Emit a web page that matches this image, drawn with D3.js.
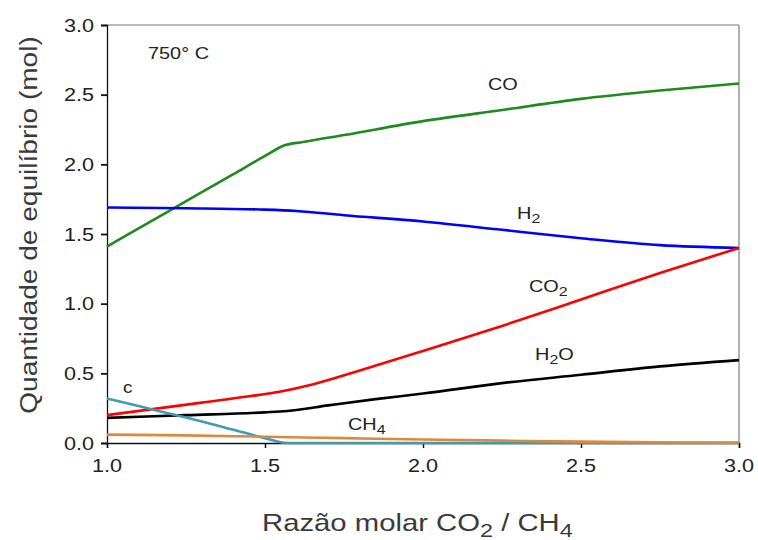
<!DOCTYPE html>
<html>
<head>
<meta charset="utf-8">
<script src="https://cdn.jsdelivr.net/npm/d3@7/dist/d3.min.js"></script>
<style>
  html, body { margin: 0; padding: 0; background: #fff; }
  svg { display: block; font-family: "Liberation Sans", Arial, sans-serif; }
</style>
</head>
<body>
<svg id="chart" width="758" height="540"></svg>
<script>
// Equilibrium composition at 750 °C versus CO2/CH4 feed ratio
const xTicks = [1.0, 1.5, 2.0, 2.5, 3.0];
const yTicks = [0.0, 0.5, 1.0, 1.5, 2.0, 2.5, 3.0];

const coX  = [1.0, 1.1, 1.2, 1.3, 1.4, 1.5, 1.56, 1.62, 1.75, 2.0, 2.25, 2.5, 2.75, 3.0];
const coY  = [1.41, 1.54, 1.67, 1.80, 1.93, 2.06, 2.135, 2.16, 2.21, 2.31, 2.39, 2.47, 2.53, 2.58];

const h2X  = [1.0, 1.25, 1.5, 1.6, 1.75, 2.0, 2.25, 2.5, 2.75, 3.0];
const h2Y  = [1.69, 1.685, 1.675, 1.665, 1.635, 1.59, 1.53, 1.47, 1.42, 1.40];

const co2X = [1.0, 1.15, 1.3, 1.45, 1.55, 1.65, 1.8, 2.0, 2.25, 2.5, 2.75, 3.0];
const co2Y = [0.20, 0.245, 0.29, 0.335, 0.37, 0.42, 0.52, 0.66, 0.84, 1.03, 1.22, 1.40];

const h2oX = [1.0, 1.25, 1.5, 1.57, 1.7, 1.85, 2.0, 2.25, 2.5, 2.75, 3.0];
const h2oY = [0.18, 0.20, 0.22, 0.23, 0.27, 0.315, 0.355, 0.43, 0.49, 0.55, 0.595];

const cX   = [1.0, 1.1, 1.2, 1.3, 1.4, 1.5, 1.57, 2.0, 2.5, 3.0];
const cY   = [0.32, 0.265, 0.21, 0.155, 0.095, 0.035, 0.0, 0.0, 0.0, 0.0];

const ch4X = [1.0, 1.25, 1.5, 1.75, 2.0, 2.25, 2.5, 2.75, 3.0];
const ch4Y = [0.06, 0.055, 0.045, 0.035, 0.025, 0.017, 0.01, 0.005, 0.003];

const series = [
  { name: "CO",  xs: coX,  ys: coY,  color: "#1f8a1f" },
  { name: "H2",  xs: h2X,  ys: h2Y,  color: "#0000ff" },
  { name: "H2O", xs: h2oX, ys: h2oY, color: "#000000" },
  { name: "CO2", xs: co2X, ys: co2Y, color: "#ff0000" },
  { name: "C",   xs: cX,   ys: cY,   color: "#3f9db3" },
  { name: "CH4", xs: ch4X, ys: ch4Y, color: "#e0883a" }
];

const L = 107, R = 739, T = 25, B = 443;
const SX = 1.17;   // horizontal widening of the lettering

const svg = d3.select("#chart");
const x = d3.scaleLinear().domain([1, 3]).range([L, R]);
const y = d3.scaleLinear().domain([0, 3]).range([B, T]);

// frame: grey top and right edges
svg.append("line").attr("x1", L).attr("x2", R).attr("y1", T).attr("y2", T)
  .attr("stroke", "#777").attr("stroke-width", 1.2);
svg.append("line").attr("x1", R).attr("x2", R).attr("y1", T).attr("y2", B)
  .attr("stroke", "#999").attr("stroke-width", 1.5);

// text helper with a slight horizontal stretch
function label(g, px, py, parts, size, anchor, rot, sx) {
  const t = g.append("text")
    .attr("transform", `translate(${px},${py})` + (rot ? ` rotate(${rot})` : "") + ` scale(${sx || SX},1)`)
    .attr("font-size", size)
    .attr("text-anchor", anchor || "start")
    .attr("fill", "#222");
  parts.forEach(p => {
    const s = t.append("tspan").text(p.t);
    if (p.sub) s.attr("font-size", size * 0.8).attr("dy", size * 0.25);
    else if (p.up) s.attr("dy", -size * 0.25);
  });
  return t;
}

// axes
const yAxis = d3.axisLeft(y).tickValues(yTicks).tickFormat(d3.format(".1f")).tickSize(6).tickPadding(0);
const xAxis = d3.axisBottom(x).tickValues(xTicks).tickFormat(d3.format(".1f")).tickSize(5).tickPadding(0);

const gy = svg.append("g").attr("transform", `translate(${L},0)`).call(yAxis);
gy.select(".domain").attr("stroke", "#111").attr("stroke-width", 1.3);
gy.selectAll(".tick line").attr("stroke", "#111").attr("stroke-width", 1.8);
gy.selectAll(".tick text").remove();
yTicks.forEach(v => label(svg, L - 13, y(v) + 6.8, [{ t: d3.format(".1f")(v) }], 18.5, "end"));

const gx = svg.append("g").attr("transform", `translate(0,${B})`).call(xAxis);
gx.select(".domain").attr("stroke", "#111").attr("stroke-width", 1.3);
gx.selectAll(".tick line").attr("stroke", "#111").attr("stroke-width", 1.5);
gx.selectAll(".tick text").remove();
xTicks.forEach(v => label(svg, x(v), B + 29, [{ t: d3.format(".1f")(v) }], 18.5, "middle"));

// series lines
const line = d3.line().x(d => x(d[0])).y(d => y(d[1])).curve(d3.curveMonotoneX);
series.forEach(s => {
  const pts = s.xs.map((v, i) => [v, s.ys[i]]);
  svg.append("path").datum(pts)
    .attr("d", line)
    .attr("fill", "none")
    .attr("stroke", s.color)
    .attr("stroke-width", 2.6)
    .attr("stroke-linejoin", "round");
});

// series names
label(svg, 488, 90, [{ t: "CO" }], 17);
label(svg, 517, 219, [{ t: "H" }, { t: "2", sub: true }], 17);
label(svg, 529, 292, [{ t: "CO" }, { t: "2", sub: true }], 17);
label(svg, 535, 360, [{ t: "H" }, { t: "2", sub: true }, { t: "O", up: true }], 17);
label(svg, 348, 430, [{ t: "CH" }, { t: "4", sub: true }], 17);
label(svg, 123, 393, [{ t: "c" }], 16);
label(svg, 148, 59, [{ t: "750° C" }], 17);

// axis titles
label(svg, 262, 531, [{ t: "Razão molar CO" }, { t: "2", sub: true }, { t: " / CH", up: true }, { t: "4", sub: true }], 24, "start", 0, 1.22)
  .attr("fill", "#3a3a3a");
label(svg, 37, 225, [{ t: "Quantidade de equilíbrio (mol)" }], 24, "middle", -90)
  .attr("fill", "#3a3a3a");
</script>
</body>
</html>
